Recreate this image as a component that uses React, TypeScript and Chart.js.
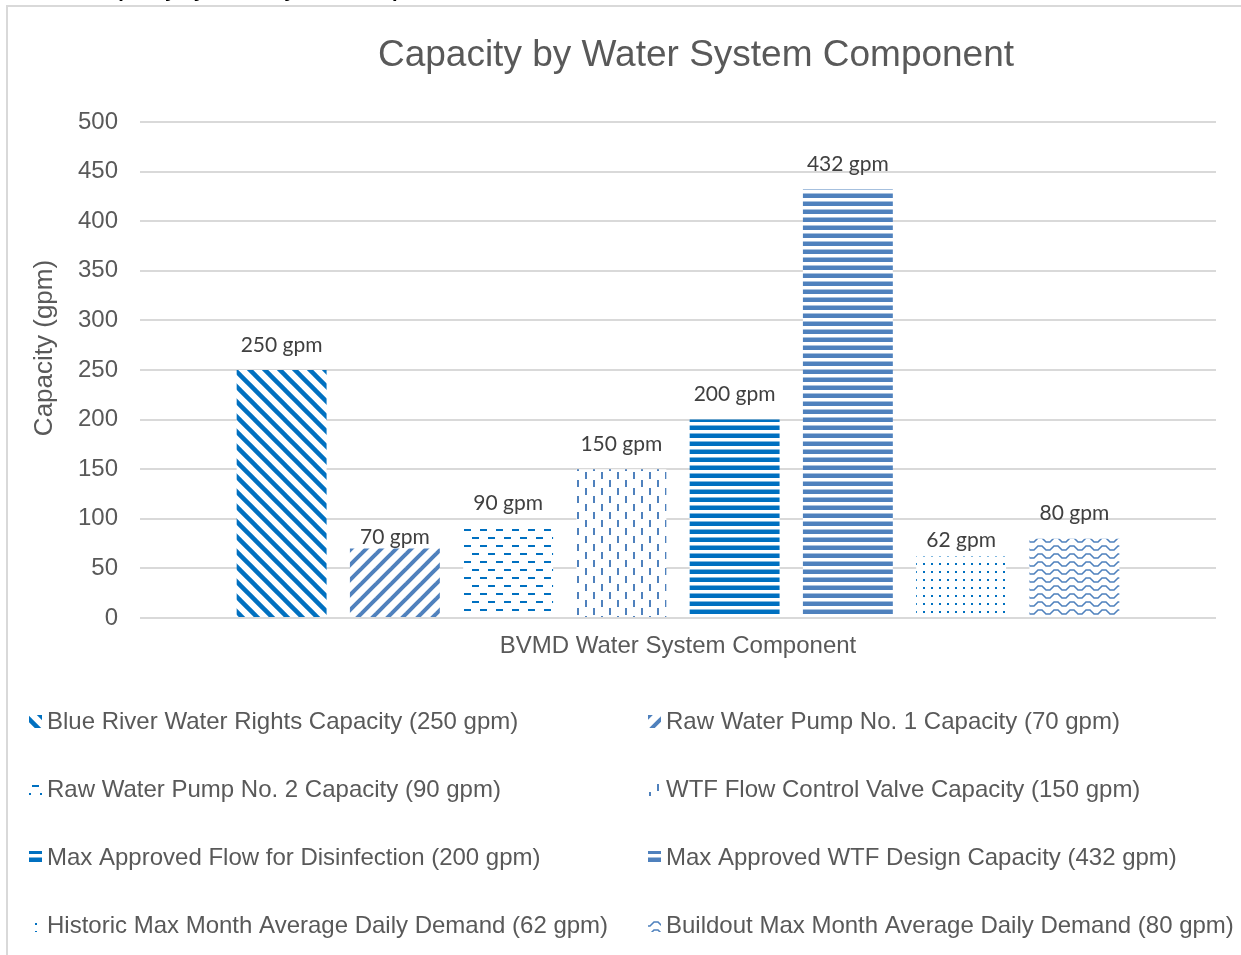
import React, { useEffect, useRef } from "react";
import { Chart, registerables } from "chart.js";

Chart.register(...registerables);

const seriesNames = [
  "Blue River Water Rights Capacity (250 gpm)",
  "Raw Water Pump No. 1 Capacity (70 gpm)",
  "Raw Water Pump No. 2 Capacity (90 gpm)",
  "WTF Flow Control Valve Capacity (150 gpm)",
  "Max Approved Flow for Disinfection (200 gpm)",
  "Max Approved WTF Design Capacity (432 gpm)",
  "Historic Max Month Average Daily Demand (62 gpm)",
  "Buildout Max Month Average Daily Demand (80 gpm)",
];
const seriesValues = [250, 70, 90, 150, 200, 432, 62, 80];
const categories = [""];
const yTicks = [0, 50, 100, 150, 200, 250, 300, 350, 400, 450, 500];

const patternKinds = ["diagDown", "diagUp", "dashH", "dashV", "narrowH", "narrowH", "dots", "wave"];
const patternColors = ["#0070c0", "#4f81bd", "#0070c0", "#4f81bd", "#0070c0", "#4f81bd", "#0070c0", "#4f81bd"];
const labelLift = [25, 11, 25, 25, 25, 25, 16.5, 25];

const FONT = "'Liberation Sans', Arial, sans-serif";
const LABEL_FONT = "Lato, 'Open Sans', sans-serif";
const GRAY = "#595959";

function makePattern(kind: string, color: string): CanvasPattern {
  const c = document.createElement("canvas");
  let w = 16, h = 16;
  if (kind === "diagDown" || kind === "diagUp") { w = 15; h = 15; }
  if (kind === "narrowH" || kind === "dots") { w = 8; h = 8; }
  if (kind === "wave") { w = 16; h = 8; }
  c.width = w; c.height = h;
  const g = c.getContext("2d")!;
  g.fillStyle = "#ffffff";
  g.fillRect(0, 0, w, h);
  g.fillStyle = color;
  g.strokeStyle = color;
  if (kind === "diagDown") {
    g.lineWidth = 4.5;
    for (let k = -1; k <= 1; k++) {
      g.beginPath();
      g.moveTo(k * w - 3, -3);
      g.lineTo(k * w + w + 3, h + 3);
      g.stroke();
    }
  } else if (kind === "diagUp") {
    g.lineWidth = 4;
    for (let k = 0; k <= 2; k++) {
      g.beginPath();
      g.moveTo(k * w + 3, -3);
      g.lineTo(k * w - w - 3, h + 3);
      g.stroke();
    }
  } else if (kind === "dashH") {
    g.fillRect(0, 1, 7, 2);
    g.fillRect(8, 9, 7, 2);
  } else if (kind === "dashV") {
    g.fillRect(1, 0, 2, 7);
    g.fillRect(9, 8, 2, 7);
  } else if (kind === "narrowH") {
    g.fillRect(0, 1.5, 8, 4.5);
  } else if (kind === "dots") {
    g.fillRect(3, 3, 2, 2);
  } else if (kind === "wave") {
    g.lineWidth = 1.6;
    g.beginPath();
    g.moveTo(-2, 2);
    g.lineTo(2, 2);
    g.lineTo(6, 6);
    g.lineTo(10, 6);
    g.lineTo(14, 2);
    g.lineTo(18, 2);
    g.stroke();
  }
  return g.createPattern(c, "repeat")!;
}

const overlayPlugin = {
  id: "overlay",
  afterDraw(chart: any) {
    const ctx: CanvasRenderingContext2D = chart.ctx;
    ctx.save();
    // outer border
    ctx.strokeStyle = "#d9d9d9";
    ctx.lineWidth = 2;
    ctx.beginPath();
    ctx.moveTo(7, 2000);
    ctx.lineTo(7, 6);
    ctx.lineTo(3000, 6);
    ctx.stroke();

    // chart title
    ctx.fillStyle = GRAY;
    ctx.textAlign = "center";
    ctx.textBaseline = "middle";
    ctx.font = `37px ${FONT}`;
    ctx.fillText("Capacity by Water System Component", 696, 56);

    // y axis title
    ctx.save();
    ctx.translate(45, 348);
    ctx.rotate(-Math.PI / 2);
    ctx.font = `26px ${FONT}`;
    ctx.fillText("Capacity (gpm)", 0, 0);
    ctx.restore();

    // x axis title
    const area = chart.chartArea;
    ctx.font = `24px ${FONT}`;
    ctx.fillText("BVMD Water System Component", (area.left + area.right) / 2, 646);

    // data labels
    ctx.fillStyle = "#404040";
    ctx.font = `21px ${LABEL_FONT}`;
    chart.data.datasets.forEach((ds: any, i: number) => {
      const meta = chart.getDatasetMeta(i);
      const bar = meta.data[0];
      if (!bar) return;
      ctx.fillText(`${ds.data[0]} gpm`, bar.x, bar.y - labelLift[i]);
    });

    // legend (2 columns)
    const colX = [29, 648];
    const rowY = [722, 790, 858, 926];
    ctx.font = `24px ${FONT}`;
    ctx.textAlign = "left";
    chart.data.datasets.forEach((ds: any, i: number) => {
      const x = colX[i % 2];
      const y = rowY[Math.floor(i / 2)];
      ctx.fillStyle = ds.backgroundColor;
      ctx.fillRect(x, y - 7, 13, 13);
      ctx.fillStyle = GRAY;
      ctx.fillText(ds.label, x + 18, y);
    });
    ctx.restore();
  },
};

export default function App() {
  const ref = useRef<HTMLCanvasElement | null>(null);
  useEffect(() => {
    if (!ref.current) return;
    const datasets = seriesNames.map((name, i) => ({
      label: name,
      data: [seriesValues[i]],
      backgroundColor: makePattern(patternKinds[i], patternColors[i]),
      borderWidth: 0,
      categoryPercentage: 0.842,
      barPercentage: 0.794,
    }));
    const chart = new Chart(ref.current, {
      type: "bar",
      data: { labels: categories, datasets },
      options: {
        animation: false,
        responsive: false,
        maintainAspectRatio: false,
        layout: { padding: { top: 122, right: 25, bottom: 337, left: 0 } },
        plugins: {
          legend: { display: false },
          title: { display: false },
          tooltip: { enabled: false },
        },
        scales: {
          x: { display: false, grid: { display: false } },
          y: {
            min: yTicks[0],
            max: yTicks[yTicks.length - 1],
            afterBuildTicks: (scale: any) => {
              scale.ticks = yTicks.map((v) => ({ value: v }));
            },
            afterFit: (scale: any) => {
              scale.width = 140;
            },
            ticks: { padding: 22, color: GRAY, font: { family: FONT, size: 24 } },
            grid: { color: "#d9d9d9", lineWidth: 2, drawTicks: false },
            border: { display: false },
          },
        },
      } as any,
      plugins: [overlayPlugin],
    });
    return () => chart.destroy();
  }, []);
  return (
    <div style={{ position: "fixed", left: 0, top: 0, width: 1241, height: 955, overflow: "hidden", background: "#fff" }}>
      <canvas ref={ref} width={1241} height={955} style={{ position: "absolute", left: 0, top: 0 }} />
      <div
        style={{
          position: "absolute",
          left: 13,
          top: -20,
          font: `bold 20px ${FONT}`,
          lineHeight: "20px",
          color: "#000",
          whiteSpace: "nowrap",
        }}
      >
        Table 1: Capacity by Water System Component
      </div>
    </div>
  );
}
